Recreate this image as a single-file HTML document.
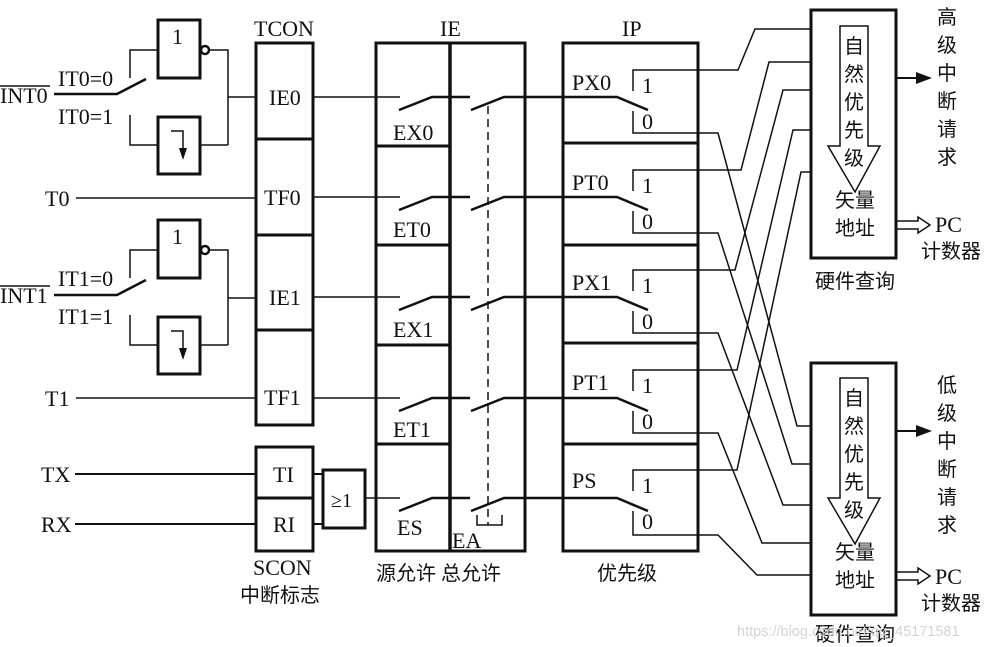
<!DOCTYPE html>
<html><head><meta charset="utf-8"><style>
html,body{margin:0;padding:0;background:#fff}
svg{display:block}
text{font-family:"Liberation Serif","Noto Serif CJK SC",serif;font-size:22px;fill:#111}
.c{font-family:"Liberation Serif","Noto Sans CJK SC",sans-serif;font-size:20px}
</style></head><body>
<svg width="987" height="647" viewBox="0 0 987 647" xmlns="http://www.w3.org/2000/svg">
<g fill="none" stroke="#111">
<g stroke-width="1.5">
<rect x="158" y="20" width="42" height="58" stroke-width="3"/>
<circle cx="205" cy="50" r="4" stroke-width="2.5"/>
<path d="M209 50H228V145M228 97H256M200 145H228"/>
<rect x="158" y="117" width="42" height="57" stroke-width="3"/>
<path d="M171 131H183V152"/>
<path d="M130 78V50H158M130 115V145H158"/>
<path d="M54 94H117L146 79" stroke-width="2.5"/>
</g>
<g transform="translate(0,200)" stroke-width="1.5">
<rect x="158" y="20" width="42" height="58" stroke-width="3"/>
<circle cx="205" cy="50" r="4" stroke-width="2.5"/>
<path d="M209 50H228V145M228 98H256M200 145H228"/>
<rect x="158" y="117" width="42" height="57" stroke-width="3"/>
<path d="M171 131H183V152"/>
<path d="M130 78V50H158M130 115V145H158"/>
<path d="M54 95H117L146 80" stroke-width="2.5"/>
</g>
<rect x="256" y="43" width="57" height="382" stroke-width="3"/>
<path d="M256 139H313M256 235H313M256 330H313" stroke-width="3"/>
<path d="M76 198H256M76 398H256" stroke-width="1.5"/>
<rect x="256" y="447" width="57" height="104" stroke-width="3"/>
<path d="M256 498H313" stroke-width="3"/>
<path d="M75 474H256M75 524H256" stroke-width="2"/>
<rect x="323" y="470" width="42" height="58" stroke-width="3"/>
<path d="M313 474H323M313 524H323" stroke-width="2"/>
<rect x="376" y="43" width="149" height="508" stroke-width="3"/>
<path d="M450 43V551" stroke-width="3.5"/>
<path d="M376 146H450M376 245H450M376 345H450M376 444H450" stroke-width="3"/>
<path d="M488 106V525" stroke-width="1.5" stroke-dasharray="8,5"/>
<path d="M477 515V525H502V515" stroke-width="1.5"/>
<rect x="563" y="43" width="135" height="508" stroke-width="3"/>
<path d="M563 143H698M563 245H698M563 343H698M563 444H698" stroke-width="3"/>
<path d="M313 97H400M313 197H400M313 297H400M313 398H400M365 498H400" stroke-width="1.5"/>
<g stroke-width="2.5">
<path d="M399 110L432 97H470M471 110L504 97H617L648 110"/>
<path d="M399 210L432 197H470M471 210L504 197H617L648 210"/>
<path d="M399 310L432 297H470M471 310L504 297H617L648 310"/>
<path d="M399 411L432 398H470M471 411L504 398H617L648 411"/>
<path d="M399 511L432 498H470M471 511L504 498H617L648 511"/>
</g>
<g stroke-width="1.5">
<path d="M633 91V70H738L755 29H811M633 111V133H718L797 426H811"/>
<path d="M633 191V170H741L769 62H811M633 211V233H718L792 464H811"/>
<path d="M633 291V270H735L783 90H811M633 311V333H718L783 505H811"/>
<path d="M633 391V370H737L793 130H811M633 411V433H718L762 543H811"/>
<path d="M633 491V470H737L801 172H811M633 511V535H718L757 575H811"/>
</g>
<rect x="811" y="10" width="85" height="248" stroke-width="3"/>
<rect x="811" y="363" width="85" height="252" stroke-width="3"/>
<path d="M840 26H868V146H880L855 192L828 146H840Z" stroke-width="1.5"/>
<path d="M840 378H868V498H880L855 544L828 498H840Z" stroke-width="1.5"/>
<path d="M896 78H918M896 431H918" stroke-width="2"/>
<path d="M896 221H918V217L930 225L918 233V229H896Z" stroke-width="1.5"/>
<path d="M896 572H918V568L930 576L918 584V580H896Z" stroke-width="1.5"/>
</g>
<path d="M916 72L932 78L916 84Z M916 425L932 431L916 437Z" fill="#111"/>
<path d="M179 148L183 160L187 148Z M179 348L183 360L187 348Z" fill="#111"/>
<text x="0" y="103">INT0</text><path d="M0 86H50" stroke="#111" stroke-width="1.5"/>
<text x="0" y="303">INT1</text><path d="M0 286H50" stroke="#111" stroke-width="1.5"/>
<text x="58" y="86">IT0=0</text><text x="58" y="124">IT0=1</text>
<text x="58" y="286">IT1=0</text><text x="58" y="324">IT1=1</text>
<text x="172" y="44">1</text><text x="172" y="244">1</text>
<text x="45" y="206">T0</text><text x="45" y="406">T1</text>
<text x="41" y="482">TX</text><text x="41" y="532">RX</text>
<text x="254" y="36">TCON</text>
<text x="269" y="105">IE0</text><text x="264" y="205">TF0</text>
<text x="269" y="305">IE1</text><text x="264" y="405">TF1</text>
<text x="273" y="482">TI</text><text x="273" y="532">RI</text>
<text x="331" y="507" style="font-size:20px">≥1</text>
<text x="253" y="575">SCON</text>
<text class="c" x="240" y="602">中断标志</text>
<text x="440" y="36">IE</text><text x="622" y="36">IP</text>
<text x="393" y="140">EX0</text><text x="393" y="237">ET0</text>
<text x="393" y="337">EX1</text><text x="393" y="437">ET1</text>
<text x="397" y="535">ES</text><text x="452" y="548">EA</text>
<text class="c" x="376" y="580">源允许 总允许</text>
<text class="c" x="597" y="580">优先级</text>
<text x="572" y="90">PX0</text><text x="572" y="190">PT0</text>
<text x="572" y="290">PX1</text><text x="572" y="390">PT1</text>
<text x="572" y="488">PS</text>
<g>
<text x="642" y="93">1</text><text x="642" y="129">0</text>
<text x="642" y="193">1</text><text x="642" y="229">0</text>
<text x="642" y="293">1</text><text x="642" y="329">0</text>
<text x="642" y="393">1</text><text x="642" y="429">0</text>
<text x="642" y="493">1</text><text x="642" y="529">0</text>
</g>
<g class="c" text-anchor="middle">
<text class="c" x="854" y="53">自</text><text class="c" x="854" y="81">然</text>
<text class="c" x="854" y="109">优</text><text class="c" x="854" y="137">先</text>
<text class="c" x="854" y="165">级</text>
<text class="c" x="855" y="207">矢量</text><text class="c" x="855" y="235">地址</text>
<text class="c" x="854" y="405">自</text><text class="c" x="854" y="433">然</text>
<text class="c" x="854" y="461">优</text><text class="c" x="854" y="489">先</text>
<text class="c" x="854" y="517">级</text>
<text class="c" x="855" y="559">矢量</text><text class="c" x="855" y="587">地址</text>
<text class="c" x="947" y="24">高</text><text class="c" x="947" y="52">级</text>
<text class="c" x="947" y="80">中</text><text class="c" x="947" y="108">断</text>
<text class="c" x="947" y="136">请</text><text class="c" x="947" y="164">求</text>
<text class="c" x="947" y="392">低</text><text class="c" x="947" y="420">级</text>
<text class="c" x="947" y="448">中</text><text class="c" x="947" y="476">断</text>
<text class="c" x="947" y="504">请</text><text class="c" x="947" y="532">求</text>
<text class="c" x="855" y="288">硬件查询</text>
<text class="c" x="855" y="641">硬件查询</text>
<text class="c" x="951" y="258">计数器</text>
<text class="c" x="951" y="610">计数器</text>
</g>
<text x="935" y="232">PC</text><text x="935" y="584">PC</text>
<text x="737" y="636" style="font-family:'Liberation Sans',sans-serif;font-size:14.5px;fill:#d4d4d4">https://blog.csdn.net/qq_45171581</text>
</svg>
</body></html>
